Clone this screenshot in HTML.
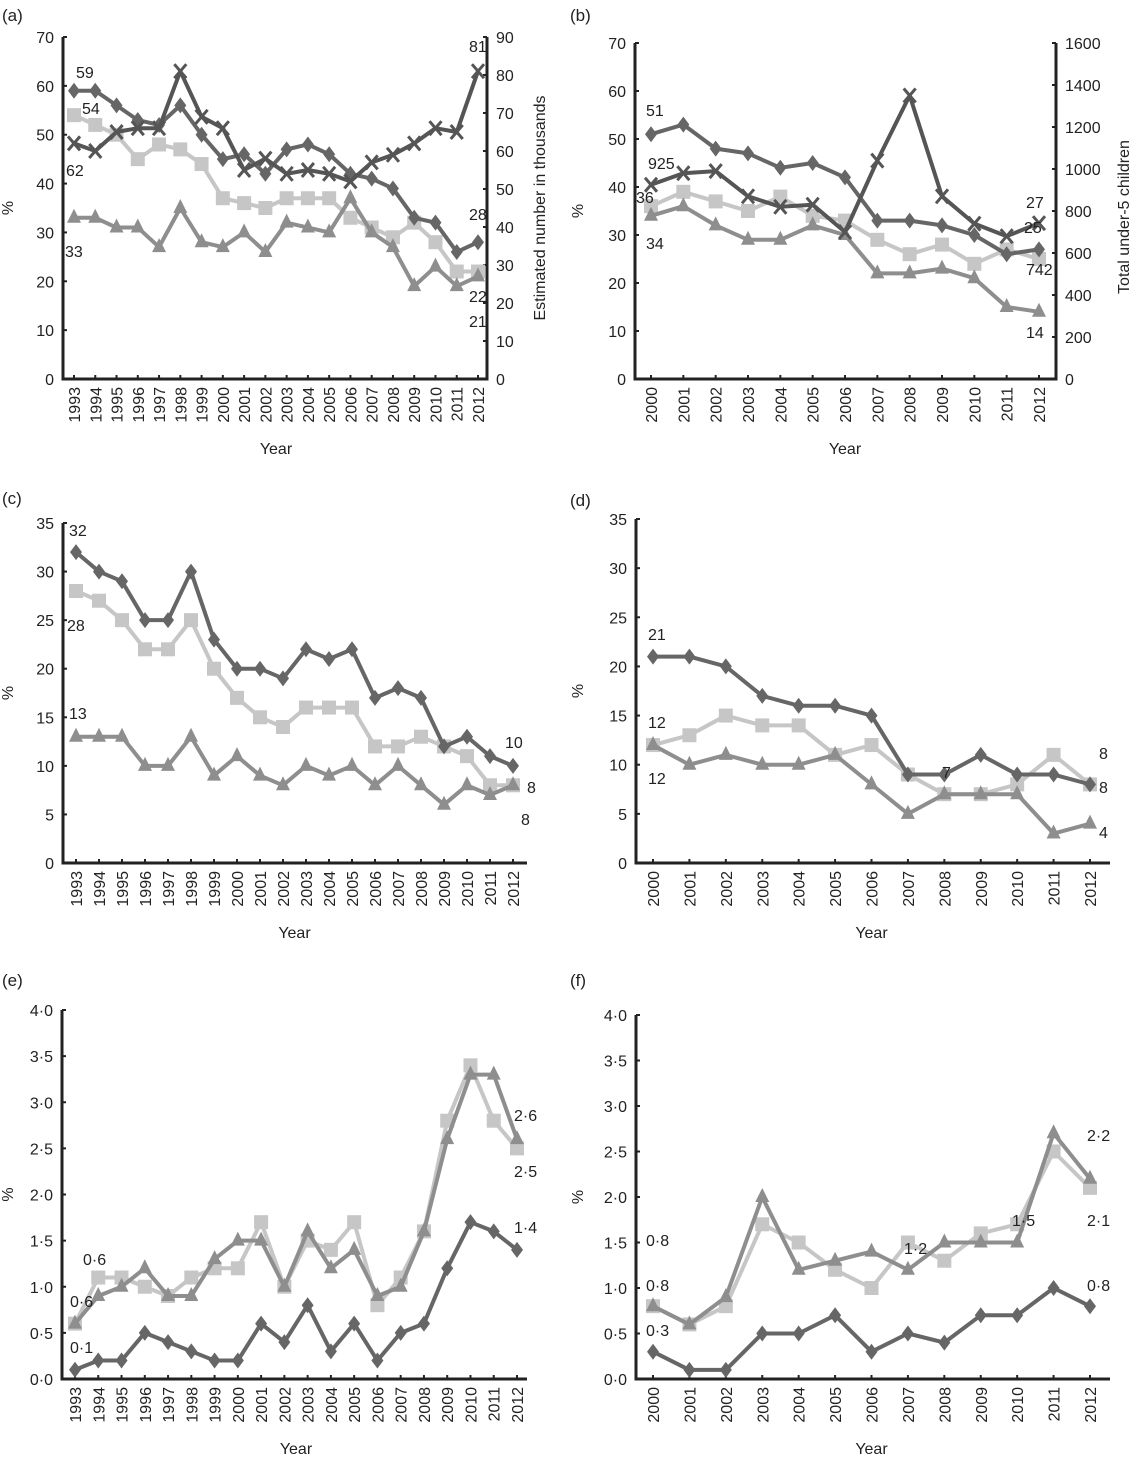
<!DOCTYPE html>
<html><head><meta charset="utf-8"><style>
body{margin:0;background:#fff;}
svg{display:block;font-family:"Liberation Sans",Arial,sans-serif;}
</style></head><body>
<svg id="fig" width="1133" height="1458" viewBox="0 0 1133 1458"></svg>
<script>
const yearsA = [1993,1994,1995,1996,1997,1998,1999,2000,2001,2002,2003,2004,2005,2006,2007,2008,2009,2010,2011,2012];
const yearsB = [2000,2001,2002,2003,2004,2005,2006,2007,2008,2009,2010,2011,2012];

const aDiamond = [59,59,56,53,52,56,50,45,46,42,47,48,46,42,41,39,33,32,26,28];
const aSquare = [54,52,50,45,48,47,44,37,36,35,37,37,37,33,31,29,32,28,22,22];
const aTriangle = [33,33,31,31,27,35,28,27,30,26,32,31,30,37,30,27,19,23,19,21];
const aCross = [62,60,65,66,66,81,69,66,55,58,54,55,54,52,57,59,62,66,65,81];

const bDiamond = [51,53,48,47,44,45,42,33,33,32,30,26,27];
const bSquare = [36,39,37,35,38,34,33,29,26,28,24,27,25];
const bTriangle = [34,36,32,29,29,32,30,22,22,23,21,15,14];
const bCross = [925,980,990,870,820,830,700,1040,1350,870,740,680,742];

const cDiamond = [32,30,29,25,25,30,23,20,20,19,22,21,22,17,18,17,12,13,11,10];
const cSquare = [28,27,25,22,22,25,20,17,15,14,16,16,16,12,12,13,12,11,8,8];
const cTriangle = [13,13,13,10,10,13,9,11,9,8,10,9,10,8,10,8,6,8,7,8];

const dDiamond = [21,21,20,17,16,16,15,9,9,11,9,9,8];
const dSquare = [12,13,15,14,14,11,12,9,7,7,8,11,8];
const dTriangle = [12,10,11,10,10,11,8,5,7,7,7,3,4];

const eDiamond = [0.1,0.2,0.2,0.5,0.4,0.3,0.2,0.2,0.6,0.4,0.8,0.3,0.6,0.2,0.5,0.6,1.2,1.7,1.6,1.4];
const eSquare = [0.6,1.1,1.1,1.0,0.9,1.1,1.2,1.2,1.7,1.0,1.5,1.4,1.7,0.8,1.1,1.6,2.8,3.4,2.8,2.5];
const eTriangle = [0.6,0.9,1.0,1.2,0.9,0.9,1.3,1.5,1.5,1.0,1.6,1.2,1.4,0.9,1.0,1.6,2.6,3.3,3.3,2.6];

const fDiamond = [0.3,0.1,0.1,0.5,0.5,0.7,0.3,0.5,0.4,0.7,0.7,1.0,0.8];
const fSquare = [0.8,0.6,0.8,1.7,1.5,1.2,1.0,1.5,1.3,1.6,1.7,2.5,2.1];
const fTriangle = [0.8,0.6,0.9,2.0,1.2,1.3,1.4,1.2,1.5,1.5,1.5,2.7,2.2];

const ticks70 = [0,10,20,30,40,50,60,70];
const ticks35 = [0,5,10,15,20,25,30,35];
const ticks4 = [0,0.5,1,1.5,2,2.5,3,3.5,4];
const ticksR90 = [0,10,20,30,40,50,60,70,80,90];
const ticksR1600 = [0,200,400,600,800,1000,1200,1400,1600];

const NS='http://www.w3.org/2000/svg';
const svg=document.getElementById('fig');
function mk(tag,attrs,parent){const e=document.createElementNS(NS,tag);for(const k in attrs)e.setAttribute(k,attrs[k]);(parent||svg).appendChild(e);return e;}
function txt(s,x,y,attrs,parent){const t=mk('text',Object.assign({x:x,y:y,'font-size':16,fill:'#222'},attrs||{}),parent);t.textContent=s;return t;}
const COL={diamond:'#666666',square:'#c6c6c6',triangle:'#8e8e8e',cross:'#555555'};

function marker(g,type,x,y){
  const c=COL[type];let m;
  if(type==='diamond'){m=mk('polygon',{points:`${x},${y-8} ${x+6},${y} ${x},${y+8} ${x-6},${y}`,fill:c},g);}
  else if(type==='square'){m=mk('rect',{x:x-7,y:y-7,width:14,height:14,fill:c},g);}
  else if(type==='triangle'){m=mk('polygon',{points:`${x},${y-9} ${x+7},${y+5} ${x-7},${y+5}`,fill:c},g);}
  else {m=mk('path',{d:`M${x-6},${y-7}L${x+6},${y+7}M${x-6},${y+7}L${x+6},${y-7}`,stroke:c,'stroke-width':3,fill:'none'},g);}
  return m;
}

function panel(cfg){
  const g=mk('g',{});
  
  
  const {x0,x1,xFirst,xLast,yTop,yBot,yMax,years}=cfg;
  const step=(xLast-xFirst)/(years.length-1);
  const xs=i=>xFirst+i*step;
  const ys=v=>yBot-(v/yMax)*(yBot-yTop);
  const ax=mk('path',{d:`M${x0},${yTop}V${yBot}H${x1}`+(cfg.right?`V${yTop}`:''),stroke:'#222','stroke-width':3,fill:'none'},g);
  
  
  cfg.ticks.forEach(v=>{
    const y=ys(v);
    mk('line',{x1:x0,x2:x0+4,y1:y,y2:y,stroke:'#222','stroke-width':2},g);
    const t=txt(cfg.fmt(v),x0-9,y+6,{'text-anchor':'end'},g);
    
    
  });
  if(cfg.right){
    const rs=v=>yBot-(v/cfg.rMax)*(yBot-yTop);
    cfg.rTicks.forEach(v=>{
      const y=rs(v);
      mk('line',{x1:x1-4,x2:x1,y1:y,y2:y,stroke:'#222','stroke-width':2},g);
      const t=txt(String(v),x1+9,y+6,{},g);
      
      
    });
    const rt=txt(cfg.rTitle,0,0,{'text-anchor':'middle',transform:`translate(${cfg.rTitleX},${cfg.rTitleY}) rotate(-90)`},g);
    
    
  }
  years.forEach((yr,i)=>{
    const x=xs(i);
    mk('line',{x1:x,x2:x,y1:yBot,y2:yBot-4,stroke:'#222','stroke-width':2},g);
    const t=txt(String(yr),0,0,{'text-anchor':'end',transform:`translate(${x+6},${yBot+8}) rotate(-90)`},g);
    
    
  });
  const xt=txt('Year',(xFirst+xLast)/2,yBot+75,{'text-anchor':'middle'},g);
  
  
  const yt=txt('%',0,0,{'text-anchor':'middle',transform:`translate(${cfg.pctX},${(yTop+yBot)/2}) rotate(-90)`},g);
  
  
  const pl=txt(cfg.label,cfg.lx,cfg.ly,{'font-size':17},g);
  
  
  cfg.series.forEach(s=>{
    const sc=s.scale?(v=>ys(v*yMax/s.scale)):ys;
    const sg=mk('g',{},g);
    
    
    const pts=s.data.map((v,i)=>`${xs(i)},${sc(v)}`).join(' ');
    const ln=mk('polyline',{points:pts,fill:'none',stroke:COL[s.type],'stroke-width':4,'stroke-linejoin':'round'},sg);
    
    
    s.data.forEach((v,i)=>{
      const m=marker(sg,s.type,xs(i),sc(v));
      
      
    });
  });
  cfg.notes.forEach(n=>{
    const t=txt(n[0],n[1],n[2],{},g);
    
    
  });
}
const int=v=>String(v);
const dot=v=>v.toFixed(1).replace('.','·');

panel({name:'panel-a',label:'(a)',lx:2,ly:21,x0:63,x1:487,xFirst:74,xLast:478,years:yearsA,pctX:13,
  yTop:37,yBot:379,yMax:70,ticks:ticks70,fmt:int,
  right:true,rMax:90,rTicks:ticksR90,rTitle:'Estimated number in thousands',rTitleX:545,rTitleY:208,
  series:[{type:'square',data:aSquare},{type:'triangle',data:aTriangle},{type:'diamond',data:aDiamond},{type:'cross',data:aCross,scale:90}],
  notes:[['59',76,78],['54',82,114],['62',66,176],['33',65,257],['81',469,52],['28',469,220],['22',469,302],['21',469,327]]});

panel({name:'panel-b',label:'(b)',lx:570,ly:21,x0:635,x1:1056,xFirst:651,xLast:1039,years:yearsB,pctX:583,
  yTop:43,yBot:379,yMax:70,ticks:ticks70,fmt:int,
  right:true,rMax:1600,rTicks:ticksR1600,rTitle:'Total under-5 children',rTitleX:1129,rTitleY:217,
  series:[{type:'square',data:bSquare},{type:'triangle',data:bTriangle},{type:'diamond',data:bDiamond},{type:'cross',data:bCross,scale:1600}],
  notes:[['51',646,116],['925',648,169],['36',636,203],['34',646,249],['27',1026,208],['25',1024,233],['742',1026,275],['14',1026,338]]});

panel({name:'panel-c',label:'(c)',lx:2,ly:504,x0:63,x1:527,xFirst:76,xLast:513,years:yearsA,pctX:13,
  yTop:523,yBot:863,yMax:35,ticks:ticks35,fmt:int,
  series:[{type:'square',data:cSquare},{type:'triangle',data:cTriangle},{type:'diamond',data:cDiamond}],
  notes:[['32',69,536],['28',67,631],['13',69,719],['10',505,748],['8',527,793],['8',521,825]]});

panel({name:'panel-d',label:'(d)',lx:570,ly:506,x0:636,x1:1110,xFirst:653,xLast:1090,years:yearsB,pctX:583,
  yTop:519,yBot:863,yMax:35,ticks:ticks35,fmt:int,
  series:[{type:'square',data:dSquare},{type:'triangle',data:dTriangle},{type:'diamond',data:dDiamond}],
  notes:[['21',648,640],['12',648,728],['12',648,784],['7',942,778],['8',1099,759],['8',1099,793],['4',1099,838]]});

panel({name:'panel-e',label:'(e)',lx:2,ly:986,x0:62,x1:527,xFirst:75,xLast:517,years:yearsA,pctX:13,
  yTop:1010,yBot:1379,yMax:4,ticks:ticks4,fmt:dot,
  series:[{type:'square',data:eSquare},{type:'triangle',data:eTriangle},{type:'diamond',data:eDiamond}],
  notes:[['0·6',83,1265],['0·6',70,1307],['0·1',70,1353],['2·6',514,1121],['2·5',514,1177],['1·4',514,1233]]});

panel({name:'panel-f',label:'(f)',lx:570,ly:986,x0:636,x1:1110,xFirst:653,xLast:1090,years:yearsB,pctX:583,
  yTop:1015,yBot:1379,yMax:4,ticks:ticks4,fmt:dot,
  series:[{type:'square',data:fSquare},{type:'triangle',data:fTriangle},{type:'diamond',data:fDiamond}],
  notes:[['0·8',646,1246],['0·8',646,1291],['0·3',646,1336],['1·2',904,1254],['1·5',1012,1226],['2·2',1087,1141],['2·1',1087,1226],['0·8',1087,1291]]});
</script>
</body></html>
